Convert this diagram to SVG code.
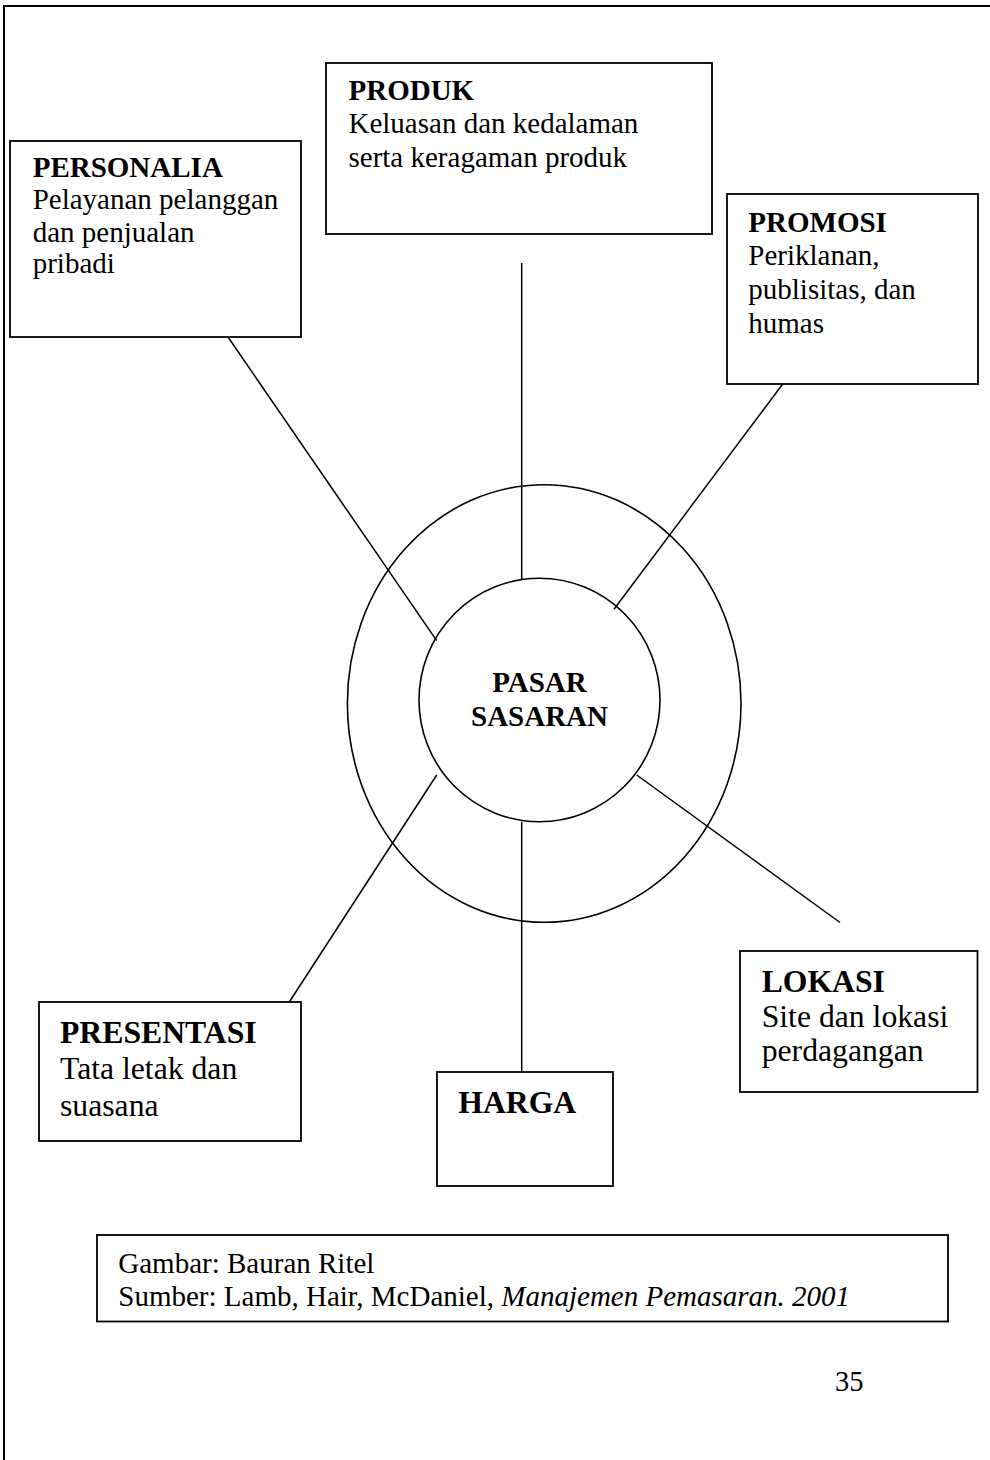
<svg xmlns="http://www.w3.org/2000/svg" width="990" height="1460" viewBox="0 0 990 1460">
<style>
.box{fill:#fff;stroke:#000;stroke-width:1.8}
.ln{stroke:#000;stroke-width:1.5;fill:none}
.ring{stroke:#000;stroke-width:1.6;fill:none}
text{font-family:"Liberation Serif","Times New Roman",serif;fill:#000}
.t{font-size:29px}
.tb{font-size:29px;font-weight:bold}
.big{font-size:31.7px}
.bigb{font-size:31.7px;font-weight:bold}
.c{font-size:29px;font-weight:bold;text-anchor:middle}
</style>
<rect width="990" height="1460" fill="#fff"/>
<path d="M4,1460 V6 H990" fill="none" stroke="#000" stroke-width="2"/>

<g id="connectors">
<path class="ln" d="M228,337 L436.7,640.7"/>
<path class="ln" d="M521.7,263 V579"/>
<path class="ln" d="M782.7,384 L614,609.3"/>
<path class="ln" d="M436.7,775 L289.3,1002"/>
<path class="ln" d="M521.7,821.7 V1071.7"/>
<path class="ln" d="M636.7,775 L840,922.5"/>
</g>

<g id="pasar-sasaran">
<ellipse class="ring" cx="544.2" cy="703.5" rx="196.8" ry="218.8"/>
<ellipse class="ring" cx="539.5" cy="700" rx="120.5" ry="121.7"/>
<text class="c" x="539.5" y="692">PASAR</text>
<text class="c" x="539.5" y="726">SASARAN</text>
</g>

<g id="personalia">
<rect class="box" x="10" y="141" width="291" height="196"/>
<text class="tb" x="32.7" y="176.7">PERSONALIA</text>
<text class="t" x="32.7" y="209.3">Pelayanan pelanggan</text>
<text class="t" x="32.7" y="241.7">dan penjualan</text>
<text class="t" x="32.7" y="273">pribadi</text>
</g>

<g id="produk">
<rect class="box" x="326" y="63" width="386" height="171"/>
<text class="tb" x="348.5" y="100">PRODUK</text>
<text class="t" x="348.5" y="133">Keluasan dan kedalaman</text>
<text class="t" x="348.5" y="167">serta keragaman produk</text>
</g>

<g id="promosi">
<rect class="box" x="727" y="194" width="251" height="190"/>
<text class="tb" x="748.3" y="232">PROMOSI</text>
<text class="t" x="748.3" y="265">Periklanan,</text>
<text class="t" x="748.3" y="299">publisitas, dan</text>
<text class="t" x="748.3" y="333">humas</text>
</g>

<g id="presentasi">
<rect class="box" x="39" y="1002" width="262" height="139"/>
<text class="bigb" x="60" y="1042.7">PRESENTASI</text>
<text class="big" x="60" y="1079">Tata letak dan</text>
<text class="big" x="60" y="1116">suasana</text>
</g>

<g id="harga">
<rect class="box" x="437" y="1072" width="176" height="114"/>
<text class="bigb" x="458.3" y="1113.3">HARGA</text>
</g>

<g id="lokasi">
<rect class="box" x="740" y="951" width="237.5" height="141"/>
<text class="bigb" x="761.7" y="992">LOKASI</text>
<text class="big" x="761.7" y="1027">Site dan lokasi</text>
<text class="big" x="761.7" y="1061">perdagangan</text>
</g>

<g id="caption">
<rect class="box" x="97" y="1235" width="851" height="86.5"/>
<text class="t" x="118.3" y="1273">Gambar: Bauran Ritel</text>
<text class="t" x="118.3" y="1305.5">Sumber: Lamb, Hair, McDaniel, <tspan font-style="italic">Manajemen Pemasaran. 2001</tspan></text>
</g>

<text x="835" y="1390.7" font-size="28.5">35</text>
</svg>
